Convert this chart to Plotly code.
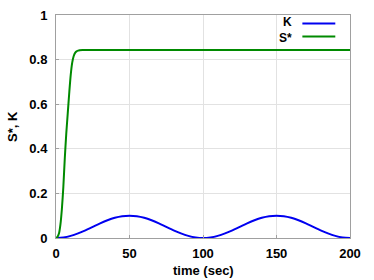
import plotly.graph_objects as go

# K(t)
k_time = [0, 5, 10, 15, 20, 25, 30, 35, 40, 45, 50, 55, 60, 65, 70, 75, 80, 85, 90, 95, 100,
          105, 110, 115, 120, 125, 130, 135, 140, 145, 150, 155, 160, 165, 170, 175, 180, 185, 190, 195, 200]
k_vals = [0.0, 0.0024, 0.0095, 0.0206, 0.0345, 0.05, 0.0655, 0.0794, 0.0905, 0.0976, 0.1,
          0.0976, 0.0905, 0.0794, 0.0655, 0.05, 0.0345, 0.0206, 0.0095, 0.0024, 0.0,
          0.0024, 0.0095, 0.0206, 0.0345, 0.05, 0.0655, 0.0794, 0.0905, 0.0976, 0.1,
          0.0976, 0.0905, 0.0794, 0.0655, 0.05, 0.0345, 0.0206, 0.0095, 0.0024, 0.0]

# S*(t)
s_time = [0, 1, 2, 3, 4, 5, 6, 7, 8, 9, 10, 11, 12, 13, 14, 15, 16, 18, 20, 50, 100, 150, 200]
s_vals = [0.0, 0.005, 0.02, 0.06, 0.13, 0.23, 0.36, 0.47, 0.56, 0.65, 0.73, 0.785, 0.815, 0.83, 0.837,
          0.84, 0.842, 0.843, 0.843, 0.843, 0.843, 0.843, 0.843]

series_names = ["K", "S*"]

x_ticks = [0, 50, 100, 150, 200]
y_ticks = [0, 0.2, 0.4, 0.6, 0.8, 1]
y_tick_text = ["0", "0.2", "0.4", "0.6", "0.8", "1"]

blue = "#0000f0"
green = "#008a00"
font = "Liberation Sans, Arial, sans-serif"
fsize = 13

fig = go.Figure()
fig.add_trace(go.Scatter(x=k_time, y=k_vals, mode="lines", name=series_names[0],
                         line=dict(color=blue, width=2, shape="spline"), showlegend=False))
fig.add_trace(go.Scatter(x=s_time, y=s_vals, mode="lines", name=series_names[1],
                         line=dict(color=green, width=2, shape="spline", smoothing=0.6), showlegend=False))

# legend (text left of line samples, as in the reference)
fig.add_annotation(xref="paper", yref="paper", x=0.807, y=0.934,
                   text="<br>".join("<b>%s</b>" % n for n in series_names), showarrow=False,
                   xanchor="right", yanchor="middle", align="right", borderpad=0,
                   font=dict(size=12, color="black", family=font))
for col, yp in [(blue, 0.962), (green, 0.904)]:
    fig.add_shape(type="line", xref="paper", yref="paper", x0=0.838, x1=0.95, y0=yp, y1=yp,
                  line=dict(color=col, width=2))

# axis titles
fig.add_annotation(xref="paper", yref="paper", x=0.5, y=-0.145, text="<b>time (sec)</b>", showarrow=False,
                   xanchor="center", yanchor="middle", font=dict(size=fsize, color="black", family=font))
fig.add_annotation(xref="paper", yref="paper", x=-0.148, y=0.5, text="<b>S*, K</b>", showarrow=False, textangle=-90,
                   xanchor="center", yanchor="middle", font=dict(size=fsize, color="black", family=font))

axis_common = dict(showline=True, linecolor="#a0a0a0", linewidth=1, mirror=True,
                   showgrid=True, gridcolor="#e2e2e2", gridwidth=1, zeroline=False,
                   ticks="inside", ticklen=3, tickcolor="#a0a0a0", automargin=False,
                   tickfont=dict(size=fsize, family=font, color="black"))

fig.update_layout(
    width=374, height=280,
    margin=dict(l=56, r=24, t=15, b=42),
    plot_bgcolor="white", paper_bgcolor="white",
    xaxis=dict(range=[0, 200], tickvals=x_ticks, ticktext=["<b>%d</b>" % v for v in x_ticks],
               ticklabelstandoff=3, **axis_common),
    yaxis=dict(range=[0, 1], tickvals=y_ticks, ticktext=["<b>%s</b>" % t for t in y_tick_text],
               ticklabelstandoff=5, **axis_common),
)

fig.write_html("out.html", config={"displayModeBar": False},
               post_script="document.body.style.margin='0';document.body.style.overflow='hidden';")
